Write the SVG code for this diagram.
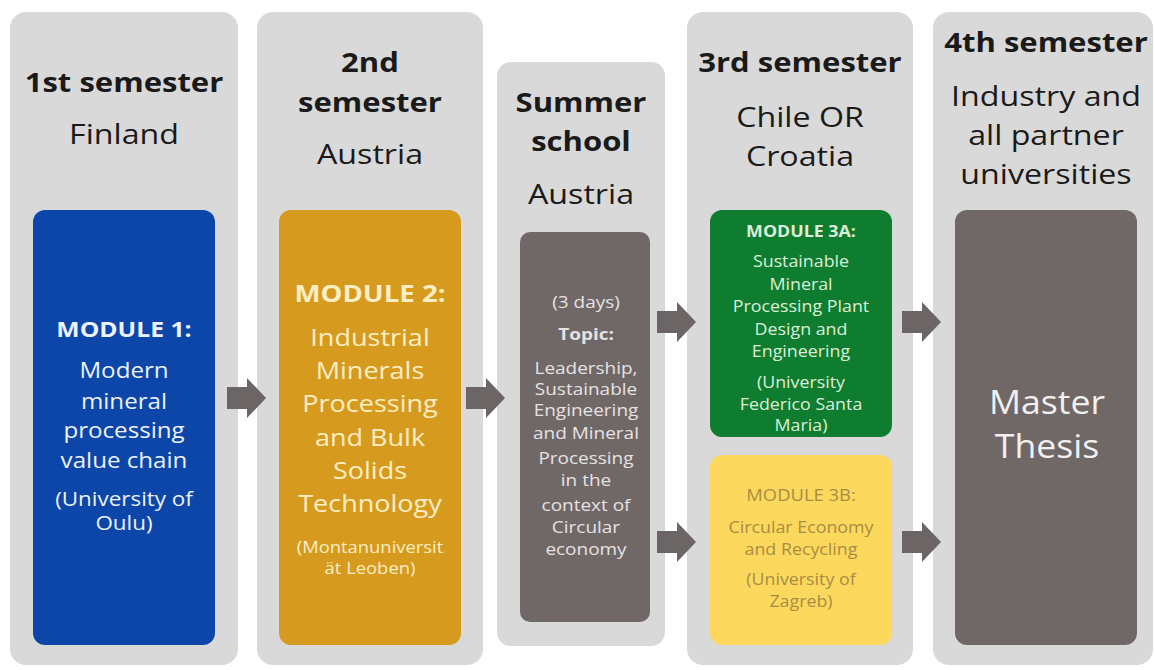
<svg xmlns="http://www.w3.org/2000/svg" width="1155" height="670" viewBox="0 0 1155 670">
<style>
.panel{fill:#d9d9d9}
.t{font-family:"Open Sans","DejaVu Sans",sans-serif;text-anchor:middle}
.hb{font-weight:700;font-size:27px;fill:#1a1a1a}
.hr{font-weight:400;font-size:28px;fill:#1a1a1a}
.arrow{fill:#6b6565}
</style>
<rect width="1155" height="670" fill="#ffffff"/>
<g id="sem1">
<rect class="panel" x="10" y="12" width="228" height="653" rx="16"/>
<g class="t" transform="translate(124 0) scale(1.15 1)">
<text class="hb" x="0" y="92">1st semester</text>
<text class="hr" x="0" y="144">Finland</text>
</g>
<rect x="33" y="210" width="182" height="435" rx="12" fill="#0b46a8"/>
<g class="t" fill="#eef2fb" font-size="21" transform="translate(124 0) scale(1.15 1)">
<text x="0" y="337" font-weight="700" font-size="21.5">MODULE 1:</text>
<text x="0" y="378">Modern</text>
<text x="0" y="409">mineral</text>
<text x="0" y="438">processing</text>
<text x="0" y="468">value chain</text>
<text x="0" y="506" font-size="19.5">(University of</text>
<text x="0" y="530" font-size="19.5">Oulu)</text>
</g>
</g>
<g id="sem2">
<rect class="panel" x="257" y="12" width="226" height="653" rx="16"/>
<g class="t" transform="translate(370 0) scale(1.15 1)">
<text class="hb" x="0" y="72">2nd</text>
<text class="hb" x="0" y="112">semester</text>
<text class="hr" x="0" y="164">Austria</text>
</g>
<rect x="279" y="210" width="182" height="435" rx="12" fill="#d69b1e"/>
<g class="t" fill="#fbeec4" font-size="23.5" transform="translate(370 0) scale(1.15 1)">
<text x="0" y="302" font-weight="700" font-size="24">MODULE 2:</text>
<text x="0" y="346">Industrial</text>
<text x="0" y="379">Minerals</text>
<text x="0" y="412">Processing</text>
<text x="0" y="446">and Bulk</text>
<text x="0" y="479">Solids</text>
<text x="0" y="512">Technology</text>
<text x="0" y="553" font-size="16">(Montanuniversit</text>
<text x="0" y="574" font-size="16">ät Leoben)</text>
</g>
</g>
<g id="summer">
<rect class="panel" x="497" y="62" width="168" height="584" rx="14"/>
<g class="t" transform="translate(581 0) scale(1.15 1)">
<text class="hb" x="0" y="112">Summer</text>
<text class="hb" x="0" y="151">school</text>
<text class="hr" x="0" y="204">Austria</text>
</g>
<rect x="520" y="232" width="130" height="390" rx="10" fill="#706867"/>
<g class="t" fill="#e6e2e2" font-size="16.5" transform="translate(586 0) scale(1.15 1)">
<text x="0" y="308">(3 days)</text>
<text x="0" y="340" font-weight="700">Topic:</text>
<text x="0" y="374">Leadership,</text>
<text x="0" y="395">Sustainable</text>
<text x="0" y="416">Engineering</text>
<text x="0" y="439">and Mineral</text>
<text x="0" y="464">Processing</text>
<text x="0" y="486">in the</text>
<text x="0" y="511">context of</text>
<text x="0" y="533">Circular</text>
<text x="0" y="555">economy</text>
</g>
</g>
<g id="sem3">
<rect class="panel" x="687" y="12" width="226" height="653" rx="16"/>
<g class="t" transform="translate(800 0) scale(1.15 1)">
<text class="hb" x="0" y="72">3rd semester</text>
<text class="hr" x="0" y="127">Chile OR</text>
<text class="hr" x="0" y="166">Croatia</text>
</g>
<rect x="710" y="210" width="182" height="227" rx="12" fill="#0f7d30"/>
<g class="t" fill="#dcefd8" font-size="15.5" transform="translate(801 0) scale(1.15 1)">
<text x="0" y="237" font-weight="700" font-size="15.5">MODULE 3A:</text>
<text x="0" y="267">Sustainable</text>
<text x="0" y="290">Mineral</text>
<text x="0" y="312">Processing Plant</text>
<text x="0" y="335">Design and</text>
<text x="0" y="357">Engineering</text>
<text x="0" y="388">(University</text>
<text x="0" y="410">Federico Santa</text>
<text x="0" y="431">Maria)</text>
</g>
<rect x="710" y="455" width="182" height="190" rx="12" fill="#fcd95c"/>
<g class="t" fill="#a88c45" font-size="15.5" transform="translate(801 0) scale(1.15 1)">
<text x="0" y="501" font-size="16">MODULE 3B:</text>
<text x="0" y="533">Circular Economy</text>
<text x="0" y="555">and Recycling</text>
<text x="0" y="585">(University of</text>
<text x="0" y="607">Zagreb)</text>
</g>
</g>
<g id="sem4">
<rect class="panel" x="933" y="12" width="220" height="653" rx="16"/>
<g class="t" transform="translate(1046 0) scale(1.15 1)">
<text class="hb" x="0" y="52">4th semester</text>
<text class="hr" x="0" y="106">Industry and</text>
<text class="hr" x="0" y="145">all partner</text>
<text class="hr" x="0" y="184">universities</text>
</g>
<rect x="955" y="210" width="182" height="435" rx="12" fill="#706867"/>
<g class="t" fill="#f2efef" font-size="33" transform="translate(1047 0) scale(1.08 1)">
<text x="0" y="414">Master</text>
<text x="0" y="458">Thesis</text>
</g>
</g>
<g id="connectors">
<polygon class="arrow" points="227,387 247,387 247,378 266,398 247,418 247,409 227,409"/>
<polygon class="arrow" points="466,387 486,387 486,378 505,398 486,418 486,409 466,409"/>
<polygon class="arrow" points="657,311 677,311 677,302 696,322 677,342 677,333 657,333"/>
<polygon class="arrow" points="657,531 677,531 677,522 696,542 677,562 677,553 657,553"/>
<polygon class="arrow" points="902,311 922,311 922,302 941,322 922,342 922,333 902,333"/>
<polygon class="arrow" points="902,531 922,531 922,522 941,542 922,562 922,553 902,553"/>
</g>
</svg>
